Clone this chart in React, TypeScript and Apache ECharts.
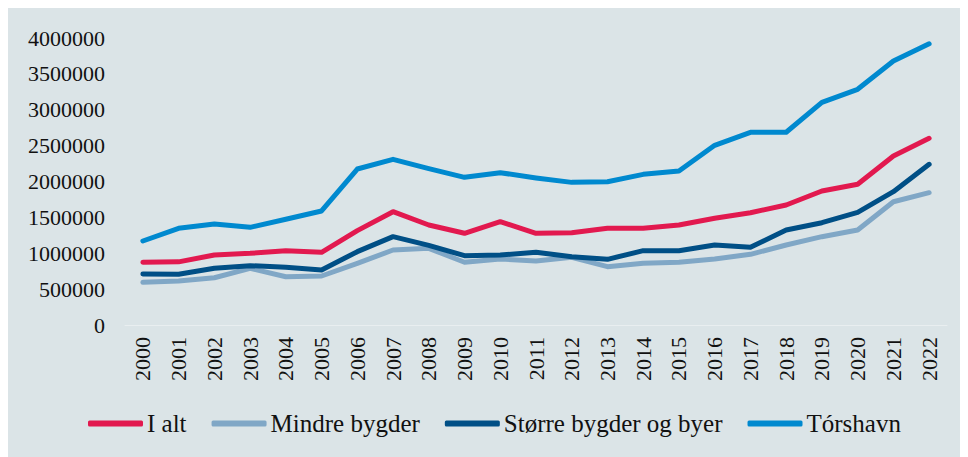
import React, { useEffect, useRef } from "react";
import * as echarts from "echarts";

const years = ["2000","2001","2002","2003","2004","2005","2006","2007","2008","2009","2010","2011","2012","2013","2014","2015","2016","2017","2018","2019","2020","2021","2022"];

const iAlt = [874000, 880000, 976000, 999000, 1036000, 1013000, 1315000, 1579000, 1394000, 1278000, 1440000, 1278000, 1287000, 1347000, 1350000, 1394000, 1487000, 1565000, 1672000, 1868000, 1961000, 2355000, 2602000];
const mindre = [595000, 613000, 659000, 790000, 673000, 683000, 860000, 1045000, 1069000, 874000, 920000, 892000, 943000, 813000, 860000, 874000, 920000, 985000, 1115000, 1231000, 1324000, 1718000, 1844000];
const storre = [711000, 707000, 790000, 827000, 804000, 767000, 1022000, 1231000, 1110000, 966000, 976000, 1013000, 952000, 915000, 1036000, 1036000, 1115000, 1083000, 1324000, 1426000, 1570000, 1858000, 2239000];
const torshavn = [1171000, 1348000, 1408000, 1361000, 1473000, 1589000, 2174000, 2309000, 2179000, 2058000, 2123000, 2050000, 1988000, 1997000, 2100000, 2146000, 2504000, 2686000, 2686000, 3103000, 3285000, 3679000, 3920000];

const seriesNames = ["I alt", "Mindre bygder", "Større bygder og byer", "Tórshavn"];
const seriesColors = ["#e2194f", "#80a7c6", "#004f86", "#0089cf"];
const seriesData = [iAlt, mindre, storre, torshavn];

const FONT = "'Liberation Serif', 'DejaVu Serif', serif";

export default function App() {
  const ref = useRef<HTMLDivElement>(null);
  useEffect(() => {
    document.body.style.overflow = "hidden";
    const chart = echarts.init(ref.current!, null, { renderer: "svg" });
    chart.setOption({
      animation: false,
      backgroundColor: "#dbe4e7",
      textStyle: { fontFamily: FONT },
      grid: { left: 117, top: 30, width: 822, height: 287, containLabel: false },
      legend: {
        left: 75,
        top: 398,
        icon: "roundRect",
        itemWidth: 55,
        itemHeight: 6,
        itemGap: 25,
        textStyle: { fontFamily: FONT, fontSize: 25, color: "#111", padding: [0, 0, 0, -1] },
        data: seriesNames,
      },
      xAxis: {
        type: "category",
        data: years,
        boundaryGap: true,
        axisLine: { show: true, lineStyle: { color: "#e9eef0", width: 1 } },
        axisTick: { show: false },
        axisLabel: { rotate: 90, fontFamily: FONT, fontSize: 22, color: "#111", margin: 12 },
      },
      yAxis: {
        type: "value",
        min: 0,
        max: 4000000,
        interval: 500000,
        splitLine: { show: false },
        axisLine: { show: false },
        axisTick: { show: false },
        axisLabel: { fontFamily: FONT, fontSize: 22, color: "#111", margin: 20, formatter: (v: number) => String(v) },
      },
      series: seriesNames.map((name, i) => ({
        name,
        type: "line",
        data: seriesData[i],
        showSymbol: false,
        symbol: "none",
        lineStyle: { color: seriesColors[i], width: 5, cap: "round", join: "round" },
        itemStyle: { color: seriesColors[i] },
      })),
    });
    return () => chart.dispose();
  }, []);
  return <div ref={ref} style={{ width: 960, height: 449 }} />;
}
